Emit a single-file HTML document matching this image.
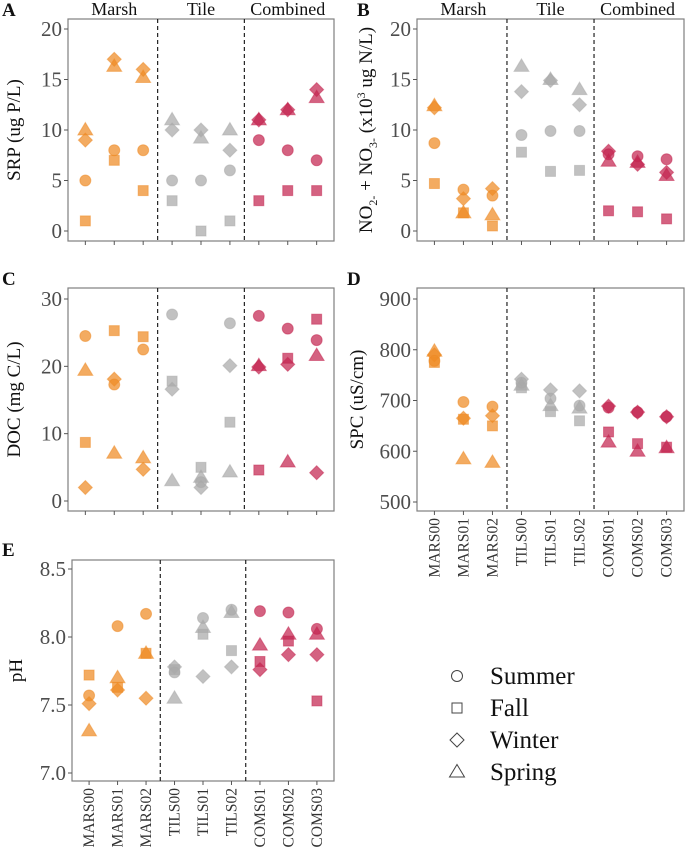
<!DOCTYPE html>
<html><head><meta charset="utf-8"><style>
html,body{margin:0;padding:0;background:#fff;}
svg, svg text{font-family:"Liberation Serif","Times New Roman",serif;}
</style></head><body>
<svg id="fig" width="685" height="851" viewBox="0 0 685 851" font-family="Liberation Serif, serif"></svg>
<script>
const sites = ["MARS00","MARS01","MARS02","TILS00","TILS01","TILS02","COMS01","COMS02","COMS03"];
const groups = ["Marsh","Tile","Combined"];
const seasons = ["Summer","Fall","Winter","Spring"];
// SRP (A)
const srpSummer = [5,8,8,5,5,6,9,8,7];
const srpFall   = [1,7,4,3,0,1,3,4,4];
const srpWinter = [9,17,16,10,10,8,11,12,14];
const srpSpring = [10,16.3,15.2,11,9.2,10,11,12,13.2];
// NO2+NO3 (B)
const noxSummer = [8.7,4.1,3.5,9.5,9.9,9.9,7.6,7.4,7.1];
const noxFall   = [4.7,1.8,0.5,7.8,5.9,6.0,2.0,1.9,1.2];
const noxWinter = [12.2,3.2,4.2,13.8,14.9,12.5,7.9,6.6,5.8];
const noxSpring = [12.4,1.8,1.6,16.3,15.0,14.0,6.9,6.8,5.5];
// DOC (C)
const docSummer = [24.5,17.3,22.5,27.7,2.8,26.4,27.5,25.6,23.9];
const docFall   = [8.7,25.3,24.4,17.8,5.0,11.7,4.6,21.2,27.0];
const docWinter = [2.0,18.1,4.7,16.6,2.0,20.1,19.9,20.3,4.2];
const docSpring = [19.4,7.1,6.4,3.0,3.5,4.3,20.1,5.8,21.6];
// SPC (D)
const spcSummer = [778,697,688,735,704,690,686,677,668];
const spcFall   = [775,663,650,725,678,660,638,615,608];
const spcWinter = [790,665,670,742,721,719,689,677,668];
const spcSpring = [797,585,578,730,690,685,618,600,607];
// pH (E)
const phSummer = [7.57,8.08,8.17,7.74,8.14,8.20,8.19,8.18,8.06];
const phFall   = [7.72,7.63,7.88,7.76,8.02,7.90,7.82,7.97,7.53];
const phWinter = [7.51,7.61,7.55,7.78,7.71,7.78,7.76,7.87,7.87];
const phSpring = [7.31,7.70,7.88,7.55,8.07,8.18,7.94,8.02,8.02];
// ticks
const srpTicks = [0,5,10,15,20];
const noxTicks = [0,5,10,15,20];
const docTicks = [0,10,20,30];
const spcTicks = [500,600,700,800,900];
const phTicks = [7.0,7.5,8.0,8.5];
const phTickLabels = ["7.0","7.5","8.0","8.5"];

const NS="http://www.w3.org/2000/svg";
const svg=document.getElementById('fig');
const FF='Liberation Serif, serif';
function mk(tag,attrs,parent){const e=document.createElementNS(NS,tag);for(const k in attrs)e.setAttribute(k,attrs[k]);if(tag==='text')e.setAttribute('font-family',FF);(parent||svg).appendChild(e);return e;}
const colors=["#ee8a24","#a9a9a9","#c42650"];

function panel(cfg){
  const g=mk('g',{});
  
  
  const L=cfg.L,R=cfg.R,T=cfg.T,B=cfg.B;
  const w=R-L;
  const x=i=>L+(i+0.6)*w/9.2;
  const y=v=>cfg.y0-(v-cfg.vmin)/(cfg.vmax-cfg.vmin)*(cfg.y0-cfg.y1);
  const box=mk('rect',{x:L,y:T,width:w,height:B-T,fill:'none',stroke:'#7f7f7f','stroke-width':1.2},g);
  
  
  [2.5,5.5].forEach(p=>{const d=mk('line',{x1:x(p),x2:x(p),y1:T,y2:B,stroke:'#222','stroke-width':1.2,'stroke-dasharray':'4,3'},g);
    
    });
  cfg.ticks.forEach((t,k)=>{const yy=y(t);
    mk('line',{x1:L-4,x2:L,y1:yy,y2:yy,stroke:'#555'},g);
    const tx=mk('text',{x:L-6,y:yy+7,'text-anchor':'end','font-size':21,fill:'#4d4d4d'},g);
    tx.textContent=cfg.tickLabels?cfg.tickLabels[k]:t;
    
    });
  sites.forEach((s,i)=>{mk('line',{x1:x(i),x2:x(i),y1:B,y2:B+4,stroke:'#555'},g);
    if(cfg.xlabels){const tx=mk('text',{x:0,y:0,transform:`translate(${x(i)+5},${B+7}) rotate(-90)`,'text-anchor':'end','font-size':15.5,fill:'#333'},g);
      tx.textContent=s;
      
      }});
  if(cfg.strips){groups.forEach((gr,k)=>{const tx=mk('text',{x:x(k*3+1),y:T-4,'text-anchor':'middle','font-size':18,fill:'#111'},g);
    tx.textContent=gr;
    
    });}
  const pl=mk('text',{x:cfg.labX,y:cfg.labY,'font-size':19,'font-weight':'bold',fill:'#111'},g);
  pl.textContent=cfg.letter;
  
  
  const yt=mk('text',{x:0,y:0,transform:`translate(${cfg.titleX},${(T+B)/2}) rotate(-90)`,'text-anchor':'middle','font-size':19,fill:'#111'},g);
  yt.innerHTML=cfg.title;
  
  
  const order=[3,2,1,0];
  order.forEach(si=>{
    const arr=cfg.series[si];
    arr.forEach((v,i)=>{
      const cx=x(i),cy=y(v),c=colors[Math.floor(i/3)];
      let m;
      const st={fill:c,'fill-opacity':0.72,stroke:c,'stroke-opacity':0.5,'stroke-width':1};
      if(si===0) m=mk('circle',Object.assign({cx:cx,cy:cy,r:5.5},st),g);
      else if(si===1) m=mk('rect',Object.assign({x:cx-5,y:cy-5,width:10,height:10},st),g);
      else if(si===2) m=mk('polygon',Object.assign({points:`${cx},${cy-7} ${cx+7},${cy} ${cx},${cy+7} ${cx-7},${cy}`},st),g);
      else m=mk('polygon',Object.assign({points:`${cx},${cy-7.5} ${cx+7.5},${cy+5} ${cx-7.5},${cy+5}`},st),g);
      
      
    });
  });
}
panel({name:'panel-a-srp',letter:'A',labX:2,labY:16,L:68,R:334,T:19,B:241,vmin:0,vmax:20,y0:231,y1:29,ticks:srpTicks,strips:true,titleX:20,title:'SRP (ug P/L)',series:[srpSummer,srpFall,srpWinter,srpSpring]});
panel({name:'panel-b-nox',letter:'B',labX:357,labY:16,L:417,R:684,T:19,B:241,vmin:0,vmax:20,y0:231,y1:29,ticks:noxTicks,strips:true,titleX:372,title:'NO<tspan font-size="12" dy="5">2-</tspan><tspan dy="-5"> + NO</tspan><tspan font-size="12" dy="5">3-</tspan><tspan dy="-5"> (x10</tspan><tspan font-size="12" dy="-7">3</tspan><tspan dy="7"> ug N/L)</tspan>',series:[noxSummer,noxFall,noxWinter,noxSpring]});
panel({name:'panel-c-doc',letter:'C',labX:2,labY:285,L:68,R:334,T:288,B:511,vmin:0,vmax:30,y0:501,y1:299,ticks:docTicks,titleX:20,title:'DOC (mg C/L)',series:[docSummer,docFall,docWinter,docSpring]});
panel({name:'panel-d-spc',letter:'D',labX:347,labY:285,L:417,R:684,T:288,B:511,vmin:500,vmax:900,y0:502,y1:299,ticks:spcTicks,xlabels:true,titleX:363,title:'SPC (uS/cm)',series:[spcSummer,spcFall,spcWinter,spcSpring]});
panel({name:'panel-e-ph',letter:'E',labX:2,labY:556,L:72,R:334,T:560,B:781,vmin:7,vmax:8.5,y0:773,y1:569,ticks:phTicks,tickLabels:phTickLabels,xlabels:true,titleX:22,title:'pH',series:[phSummer,phFall,phWinter,phSpring]});

// legend
const lg=mk('g',{});


seasons.forEach((s,k)=>{
  const cy=676+k*32,cx=457;let m;
  const st={fill:'none',stroke:'#444','stroke-width':1};
  if(k===0) m=mk('circle',Object.assign({cx:cx,cy:cy,r:5.5},st),lg);
  else if(k===1) m=mk('rect',Object.assign({x:cx-5,y:cy-5,width:10,height:10},st),lg);
  else if(k===2) m=mk('polygon',Object.assign({points:`${cx},${cy-7} ${cx+7},${cy} ${cx},${cy+7} ${cx-7},${cy}`},st),lg);
  else m=mk('polygon',Object.assign({points:`${cx},${cy-7.5} ${cx+7.5},${cy+5} ${cx-7.5},${cy+5}`},st),lg);
  
  
  const t=mk('text',{x:490,y:cy+8,'font-size':25,fill:'#111'},lg);
  t.textContent=s;
  
  
});
</script>
</body></html>
